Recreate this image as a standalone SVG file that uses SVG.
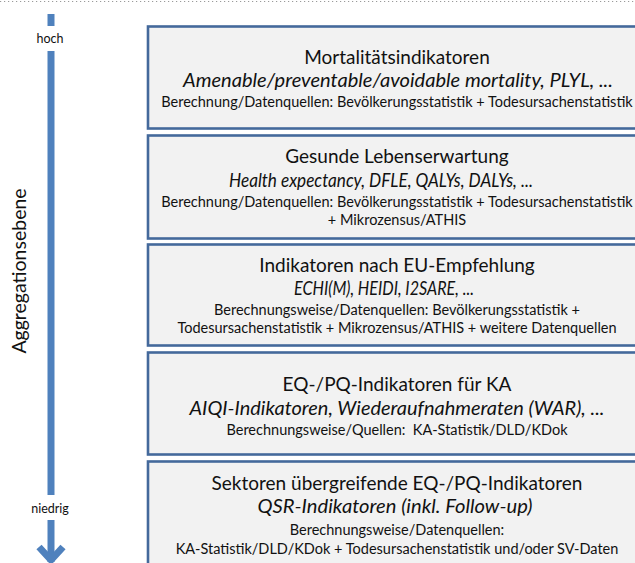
<svg xmlns="http://www.w3.org/2000/svg" width="635" height="563" viewBox="0 0 635 563">
<style>
.box{fill:#f2f2f2;stroke:#44699b;stroke-width:2.6}
.t{font-family:Lato,"Liberation Sans",sans-serif;fill:#111;text-anchor:middle}
.h{font-size:19px}
.i{font-size:18.5px;font-style:italic}
.s{font-size:14.5px}
.lab{font-family:Lato,"Liberation Sans",sans-serif;fill:#111;text-anchor:middle;font-size:12.5px}
.bar{stroke:#4f81bd;stroke-width:7;fill:none}
</style>
<line x1="0" y1="1.5" x2="635" y2="1.5" stroke="#9a9a9a" stroke-width="1.2" stroke-dasharray="1.2 2.8"/>
<g id="axis">
<line class="bar" x1="51" y1="14" x2="51" y2="26"/>
<line class="bar" x1="51" y1="51" x2="51" y2="495"/>
<line class="bar" x1="51" y1="520" x2="51" y2="562"/>
<polyline class="bar" points="39,547 51,560 63,547" stroke-linecap="butt"/>
<text class="lab" x="50" y="43">hoch</text>
<text class="lab" x="50" y="513">niedrig</text>
<text class="t" transform="translate(26,271) rotate(-90)" font-size="19.5">Aggregationsebene</text>
</g>
<g id="n1">
<rect class="box" x="148" y="26.5" width="500" height="102"/>
<text class="t h" x="397" y="64">Mortalitätsindikatoren</text>
<text class="t i" x="398" y="87" textLength="430" lengthAdjust="spacingAndGlyphs">Amenable/preventable/avoidable mortality, PLYL, ...</text>
<text class="t s" x="397" y="107">Berechnung/Datenquellen: Bevölkerungsstatistik + Todesursachenstatistik</text>
</g>
<g id="n2">
<rect class="box" x="148" y="135.5" width="500" height="103"/>
<text class="t h" x="397" y="163">Gesunde Lebenserwartung</text>
<text class="t i" x="381" y="187" textLength="304" lengthAdjust="spacingAndGlyphs">Health expectancy, DFLE, QALYs, DALYs, ...</text>
<text class="t s" x="397" y="207">Berechnung/Datenquellen: Bevölkerungsstatistik + Todesursachenstatistik</text>
<text class="t s" x="397" y="225">+ Mikrozensus/ATHIS</text>
</g>
<g id="n3">
<rect class="box" x="148" y="244.5" width="500" height="101"/>
<text class="t h" x="397" y="272">Indikatoren nach EU-Empfehlung</text>
<text class="t i" x="384" y="295" textLength="180" lengthAdjust="spacingAndGlyphs">ECHI(M), HEIDI, I2SARE, ...</text>
<text class="t s" x="397" y="315">Berechnungsweise/Datenquellen: Bevölkerungsstatistik +</text>
<text class="t s" x="397" y="333">Todesursachenstatistik + Mikrozensus/ATHIS + weitere Datenquellen</text>
</g>
<g id="n4">
<rect class="box" x="148" y="352.5" width="500" height="102"/>
<text class="t h" x="397" y="391">EQ-/PQ-Indikatoren für KA</text>
<text class="t i" x="397" y="415" textLength="415" lengthAdjust="spacingAndGlyphs">AIQI-Indikatoren, Wiederaufnahmeraten (WAR), ...</text>
<text class="t s" x="397" y="435" xml:space="preserve">Berechnungsweise/Quellen:  KA-Statistik/DLD/KDok</text>
</g>
<g id="n5">
<rect class="box" x="148" y="461.5" width="500" height="110"/>
<text class="t h" x="397" y="490">Sektoren übergreifende EQ-/PQ-Indikatoren</text>
<text class="t i" x="395" y="513" textLength="275" lengthAdjust="spacingAndGlyphs">QSR-Indikatoren (inkl. Follow-up)</text>
<text class="t s" x="397" y="535">Berechnungsweise/Datenquellen:</text>
<text class="t s" x="397" y="554">KA-Statistik/DLD/KDok + Todesursachenstatistik und/oder SV-Daten</text>
</g>
<g id="connectors"/>
</svg>
